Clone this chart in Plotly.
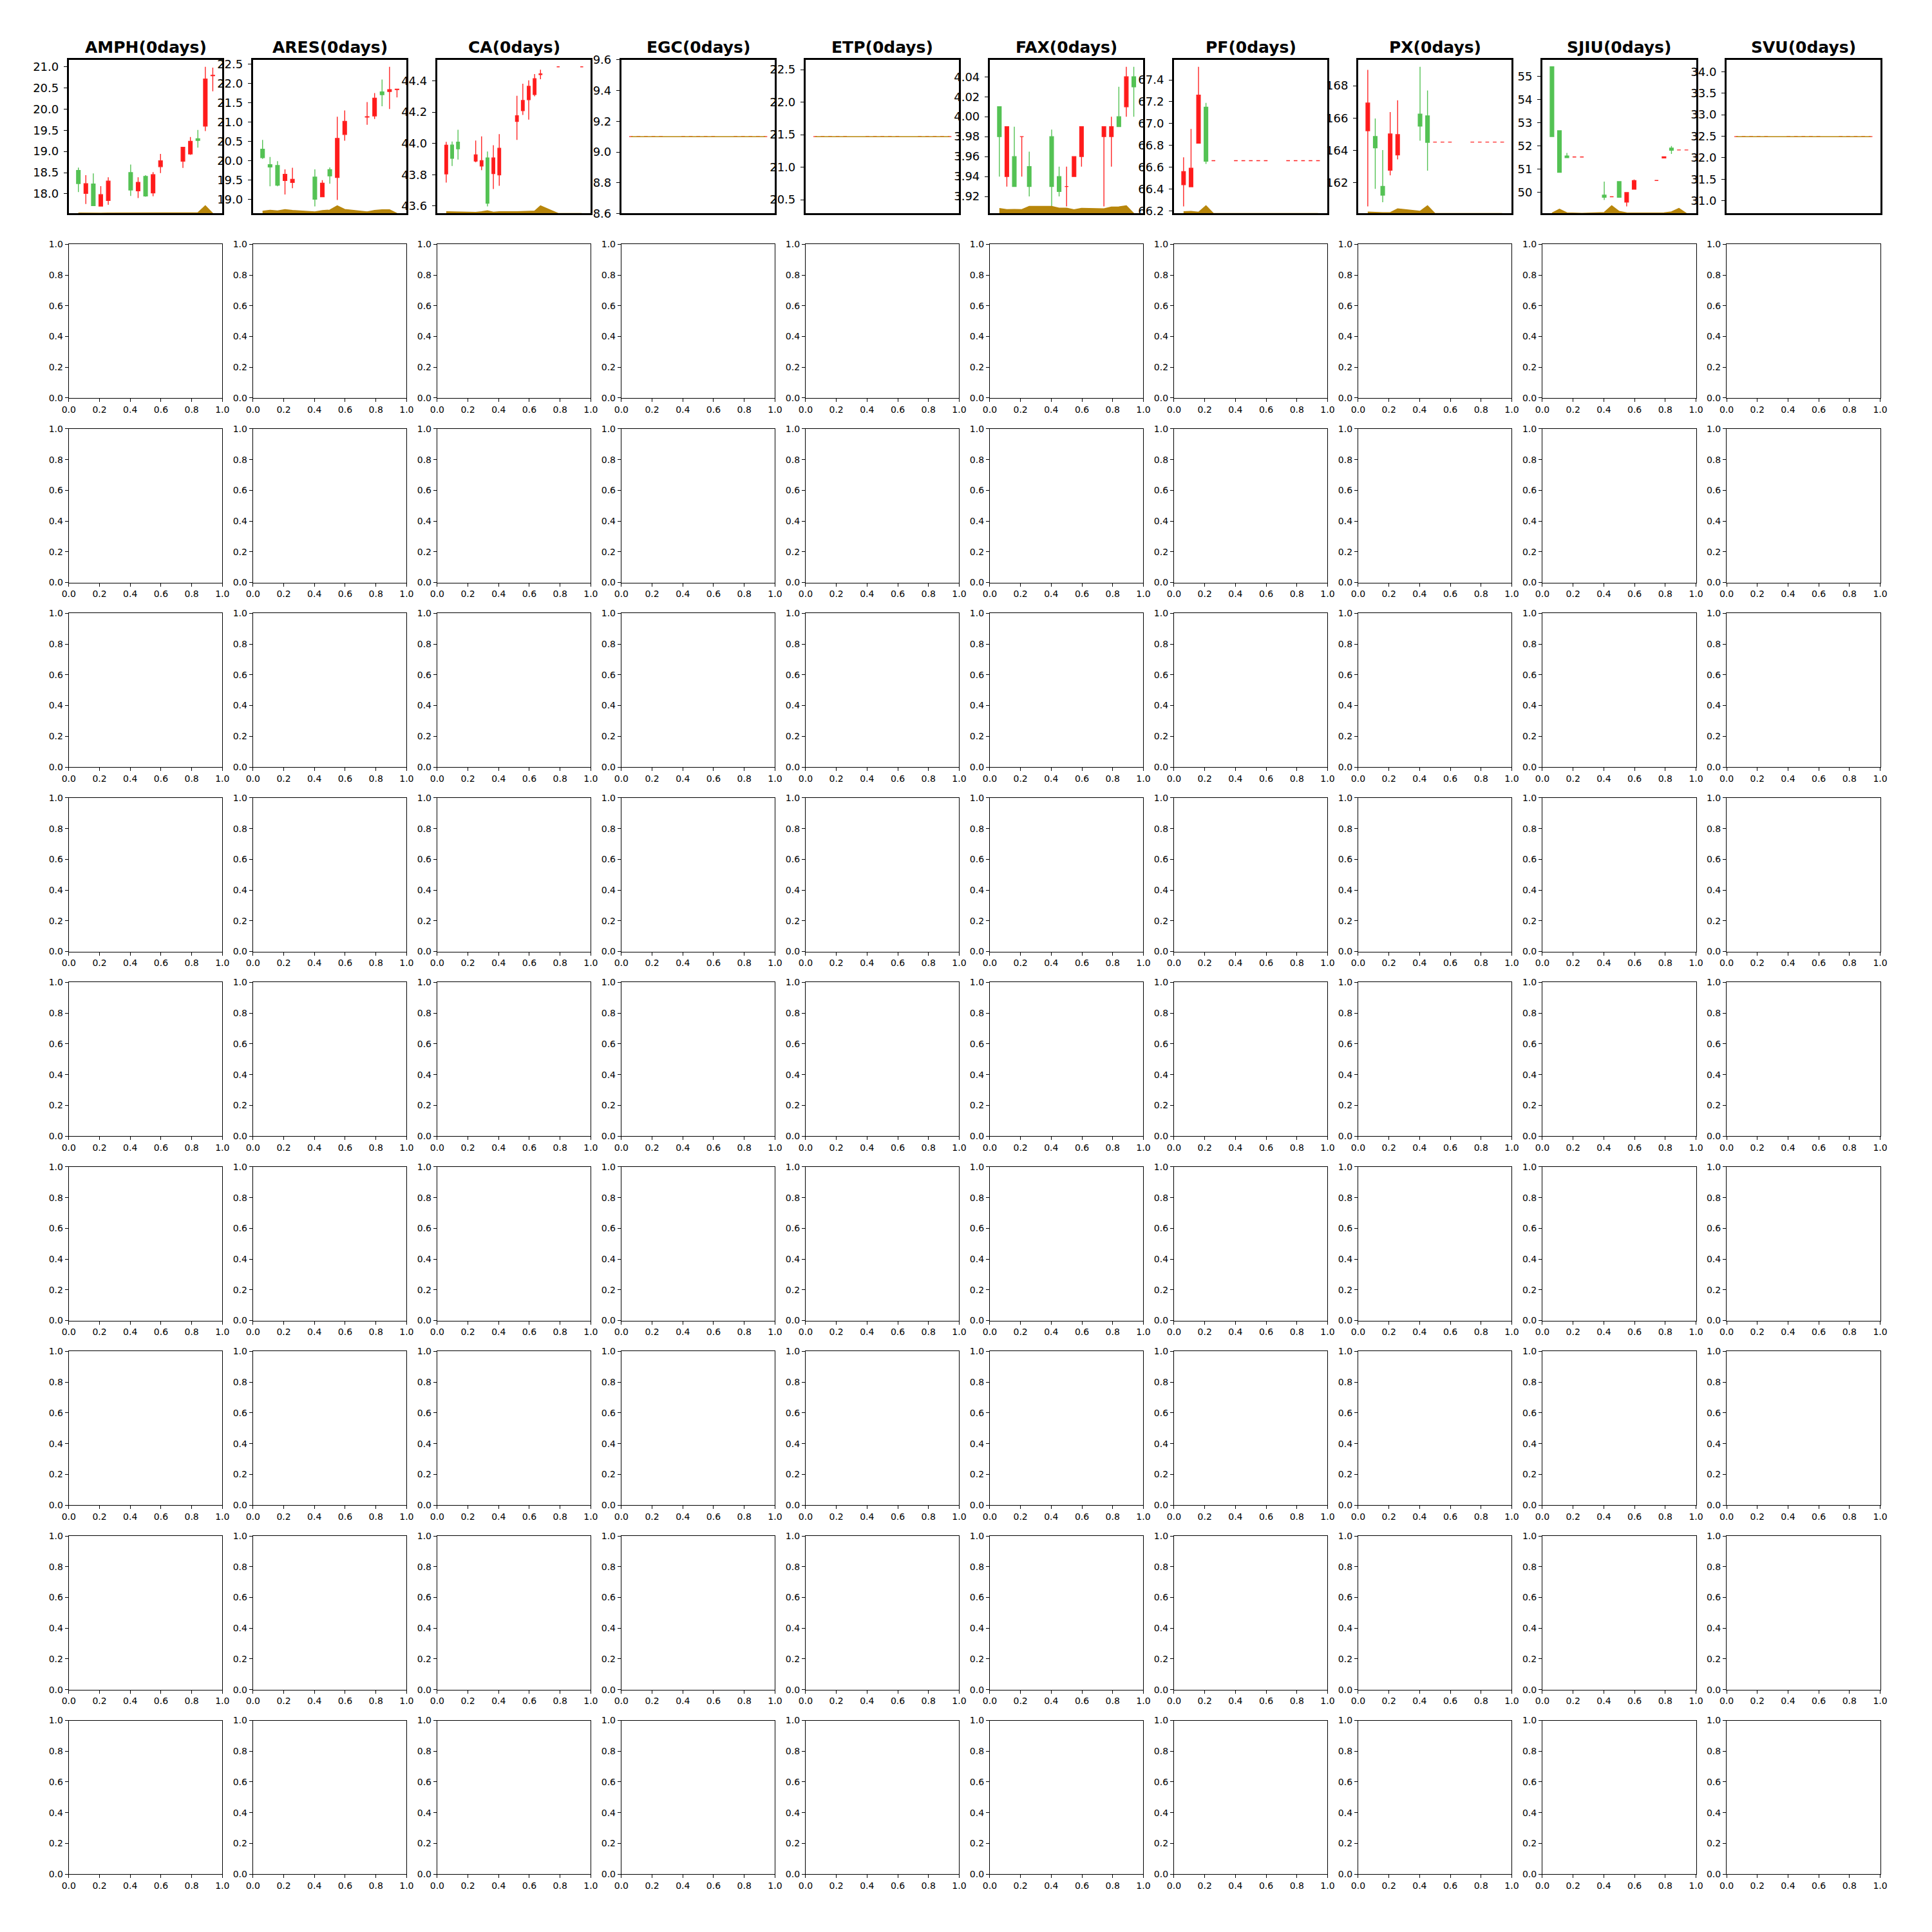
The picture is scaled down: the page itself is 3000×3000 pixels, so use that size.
import plotly.graph_objects as go

# ---------------- data ----------------
names = ["AMPH", "ARES", "CA", "EGC", "ETP", "FAX", "PF", "PX", "SJIU", "SVU"]
title_suffix = "(0days)"

days_std = [0, 1, 2, 3, 4, 7, 8, 9, 10, 11, 14, 15, 16, 17, 18]
days_ca = [0, 1, 2, 5, 6, 7, 8, 9, 12, 13, 14, 15, 16, 19, 23]

amph_open = [18.55, 18.01, 18.23, 17.71, 17.84, 18.50, 18.07, 18.41, 18.02, 18.64, 18.77, 18.94, 19.30, 19.60, 20.79]
amph_high = [18.62, 18.44, 18.48, 18.18, 18.39, 18.69, 18.39, 18.44, 18.51, 18.94, 19.11, 19.34, 19.51, 21.00, 20.98]
amph_low = [18.04, 17.76, 17.71, 17.70, 17.74, 17.95, 17.90, 17.93, 17.94, 18.49, 18.61, 18.92, 19.09, 19.48, 20.42]
amph_close = [18.24, 18.24, 17.72, 17.98, 18.30, 18.09, 18.27, 17.95, 18.45, 18.78, 19.10, 19.24, 19.26, 20.71, 20.80]
amph_vol = [3, 2, 2, 2, 3, 3, 3, 4, 4, 5, 5, 5, 6, 60, 0]

ares_open = [20.30, 19.90, 19.88, 19.49, 19.44, 19.58, 19.07, 19.77, 19.57, 20.68, 21.13, 21.16, 21.78, 21.79, 21.84]
ares_high = [20.54, 20.10, 19.99, 19.78, 19.82, 19.78, 19.50, 19.83, 21.14, 21.30, 21.52, 21.75, 22.10, 22.43, 21.85]
ares_low = [20.05, 19.34, 19.34, 19.13, 19.29, 18.82, 19.06, 19.41, 18.99, 20.52, 20.93, 21.08, 21.41, 21.34, 21.64]
ares_close = [20.08, 19.84, 19.37, 19.65, 19.52, 19.01, 19.42, 19.61, 20.58, 21.02, 21.14, 21.62, 21.71, 21.84, 21.85]
ares_vol = [11, 16, 13, 19, 15, 8, 14, 17, 38, 20, 8, 15, 18, 18, 0]

ca_open = [43.805, 43.990, 44.008, 43.887, 43.856, 43.907, 43.807, 43.799, 44.141, 44.210, 44.280, 44.313, 44.440, 44.490, 44.490]
ca_high = [44.010, 44.012, 44.087, 44.018, 44.045, 43.948, 43.989, 44.060, 44.305, 44.382, 44.403, 44.444, 44.471, 44.490, 44.490]
ca_low = [43.750, 43.856, 43.897, 43.879, 43.829, 43.597, 43.709, 43.729, 44.023, 44.182, 44.152, 44.301, 44.411, 44.490, 44.490]
ca_close = [43.989, 43.905, 43.966, 43.927, 43.890, 43.618, 43.907, 43.969, 44.177, 44.275, 44.365, 44.414, 44.445, 44.490, 44.490]
ca_vol = [8, 7, 6, 5, 8, 13, 6, 8, 8, 9, 10, 11, 36, 0, 0]

egc_price = [9.10] * 15
egc_vol = [0] * 15

etp_price = [21.47] * 15
etp_vol = [0] * 15

fax_open = [4.01, 3.94, 3.96, 3.98, 3.95, 3.98, 3.94, 3.93, 3.94, 3.96, 3.98, 3.98, 4.00, 4.01, 4.04]
fax_high = [4.01, 3.99, 3.99, 3.98, 3.965, 3.987, 3.95, 3.95, 3.96, 3.99, 3.99, 4.00, 4.03, 4.05, 4.05]
fax_low = [3.94, 3.93, 3.93, 3.94, 3.92, 3.91, 3.92, 3.91, 3.94, 3.95, 3.91, 3.95, 3.99, 4.00, 4.00]
fax_close = [3.98, 3.99, 3.93, 3.98, 3.93, 3.93, 3.925, 3.93, 3.96, 3.99, 3.99, 3.99, 3.99, 4.04, 4.03]
fax_vol = [23, 18, 19, 18, 33, 33, 25, 25, 17, 24, 22, 30, 31, 36, 0]

pf_open = [66.44, 66.42, 66.82, 67.15] + [66.66] * 11
pf_high = [66.69, 66.95, 67.52, 67.19] + [66.66] * 11
pf_low = [66.24, 66.42, 66.82, 66.63] + [66.66] * 11
pf_close = [66.56, 66.59, 67.26, 66.655] + [66.66] * 11
pf_vol = [8, 10, 6, 36] + [0] * 11

px_open = [165.22, 164.86, 161.78, 162.78, 163.73, 166.25, 166.14] + [164.52] * 8
px_high = [168.98, 165.98, 164.03, 166.37, 167.10, 169.17, 167.71] + [164.52] * 8
px_low = [160.54, 161.63, 160.80, 162.46, 163.45, 164.60, 162.75] + [164.52] * 8
px_close = [166.93, 164.16, 161.24, 165.02, 164.98, 165.51, 164.50] + [164.52] * 8
px_vol = [7, 5, 4, 4, 23, 11, 38] + [0] * 8

sjiu_open = [55.41, 52.66, 51.57, 51.53, 51.53, 49.89, 49.82, 50.47, 49.59, 50.14, 50.52, 51.49, 51.91, 51.83, 51.83]
sjiu_high = [55.41, 52.66, 51.70, 51.53, 51.53, 50.47, 49.82, 50.47, 50.00, 50.56, 50.52, 51.54, 52.00, 51.83, 51.83]
sjiu_low = [52.41, 50.87, 51.50, 51.53, 51.53, 49.68, 49.82, 49.80, 49.40, 50.14, 50.52, 51.49, 51.66, 51.83, 51.83]
sjiu_close = [52.41, 50.87, 51.50, 51.53, 51.53, 49.80, 49.82, 49.80, 50.00, 50.51, 50.52, 51.54, 51.82, 51.83, 51.83]
sjiu_vol = [2, 21, 3, 1, 1, 5, 38, 10, 3, 2, 2, 3, 8, 25, 0]

svu_price = [32.49] * 15
svu_vol = [0] * 15

# y tick steps and formats for the top row
tick_steps = [0.5, 0.5, 0.2, 0.2, 0.5, 0.02, 0.2, 2, 1, 0.5]
tick_formats = [".1f", ".1f", ".1f", ".1f", ".1f", ".2f", ".1f", "d", "d", ".1f"]
empty_ticks = [0.0, 0.2, 0.4, 0.6, 0.8, 1.0]

panels = [
    (days_std, amph_open, amph_high, amph_low, amph_close, amph_vol),
    (days_std, ares_open, ares_high, ares_low, ares_close, ares_vol),
    (days_ca, ca_open, ca_high, ca_low, ca_close, ca_vol),
    (days_std, egc_price, egc_price, egc_price, egc_price, egc_vol),
    (days_std, etp_price, etp_price, etp_price, etp_price, etp_vol),
    (days_std, fax_open, fax_high, fax_low, fax_close, fax_vol),
    (days_std, pf_open, pf_high, pf_low, pf_close, pf_vol),
    (days_std, px_open, px_high, px_low, px_close, px_vol),
    (days_std, sjiu_open, sjiu_high, sjiu_low, sjiu_close, sjiu_vol),
    (days_std, svu_price, svu_price, svu_price, svu_price, svu_vol),
]

# ---------------- style ----------------
FIG = 3000
# the page shows the plot area offset by the body margin, so map target pixels accordingly
PAGE_OFF, PAGE_EFF = 8, 2984
COL_L, COL_STEP = 104, 286.6
ROW_T, ROW_STEP = 90, 287
SIZE = 239

BODY_RED, WICK_RED = "rgb(255,26,26)", "rgb(255,35,35)"
BODY_GREEN, WICK_GREEN = "rgb(84,194,84)", "rgb(84,194,84)"
VOL_COLOR = "rgb(184,134,11)"
FONT = "DejaVu Sans"


def frac(p):
    return (p - PAGE_OFF) / PAGE_EFF


def ax_name(prefix, n):
    return prefix if n == 1 else f"{prefix}{n}"


layout = dict(
    width=FIG, height=FIG,
    margin=dict(l=0, r=0, t=0, b=0),
    paper_bgcolor="white", plot_bgcolor="white",
    showlegend=False,
    annotations=[],
)

fig = go.Figure()

for r in range(10):
    for c in range(10):
        n = r * 10 + c + 1
        left = COL_L + COL_STEP * c
        x0, x1 = frac(left), frac(left + SIZE)
        top = ROW_T + ROW_STEP * r
        y1 = 1 - frac(top)
        y0 = 1 - frac(top + SIZE)
        xk, yk = ax_name("xaxis", n), ax_name("yaxis", n)
        xa, ya = ax_name("x", n), ax_name("y", n)
        if r == 0:
            days, o, h, l, cl, v = panels[c]
            xlo, xhi = days[0] - 0.35, days[-1] + 0.35
            xp = 0.05 * (xhi - xlo)
            ylo, yhi = min(l), max(h)
            if yhi == ylo:
                ylo, yhi = ylo * 0.95, yhi * 1.05
            yp = 0.05 * (yhi - ylo)
            layout[xk] = dict(
                domain=[x0, x1], anchor=ya, range=[xlo - xp, xhi + xp],
                showline=True, mirror=True, linecolor="black", linewidth=3,
                showticklabels=False, ticks="", showgrid=False, zeroline=False,
                rangeslider=dict(visible=False),
            )
            layout[yk] = dict(
                domain=[y0, y1], anchor=xa, range=[ylo - yp, yhi + yp],
                showline=True, mirror=True, linecolor="black", linewidth=3,
                ticks="outside", ticklen=5, tickwidth=1.3, tickcolor="black",
                ticklabelstandoff=4,
                tick0=0, dtick=tick_steps[c], tickformat=tick_formats[c],
                tickfont=dict(family=FONT, size=18, color="black"),
                showgrid=False, zeroline=False,
            )
            fig.add_trace(go.Candlestick(
                x=days, open=o, high=h, low=l, close=cl,
                xaxis=xa, yaxis=ya,
                increasing=dict(line=dict(color=WICK_RED, width=1.4), fillcolor=BODY_RED),
                decreasing=dict(line=dict(color=WICK_GREEN, width=1.4), fillcolor=BODY_GREEN),
                whiskerwidth=0, hoverinfo="skip", showlegend=False,
            ))
            vn = 100 + c + 1
            vmax = max(v)
            vrange = [0, vmax * 20] if vmax > 0 else [-1, 1]
            layout[f"yaxis{vn}"] = dict(
                overlaying=ya, anchor=xa, side="right", range=vrange,
                visible=False, showgrid=False, zeroline=False,
            )
            fig.add_trace(go.Scatter(
                x=days, y=v, xaxis=xa, yaxis=f"y{vn}",
                mode="lines", line=dict(color=VOL_COLOR, width=1.5),
                fill="tozeroy", fillcolor=VOL_COLOR, hoverinfo="skip", showlegend=False,
            ))
            layout["annotations"].append(dict(
                text=f"<b>{names[c]}{title_suffix}</b>",
                x=(x0 + x1) / 2, y=y1, xref="paper", yref="paper",
                xanchor="center", yanchor="bottom", yshift=3, showarrow=False,
                font=dict(family=FONT, size=25, color="black"),
            ))
        else:
            common = dict(
                range=[0, 1], tickmode="array", tickvals=empty_ticks,
                tickformat=".1f", showline=True, mirror=True,
                linecolor="black", linewidth=1.1, ticks="outside", ticklen=5,
                tickwidth=1.1, tickcolor="black",
                tickfont=dict(family=FONT, size=14, color="black"),
                showgrid=False, zeroline=False,
            )
            layout[xk] = dict(domain=[x0, x1], anchor=ya, **common)
            layout[yk] = dict(domain=[y0, y1], anchor=xa, **common)
            # empty placeholder so that plotly draws this (empty) subplot
            fig.add_trace(go.Scatter(
                x=[], y=[], xaxis=xa, yaxis=ya, mode="lines",
                hoverinfo="skip", showlegend=False,
            ))

fig.update_layout(**layout)
fig.write_html("out.html")
